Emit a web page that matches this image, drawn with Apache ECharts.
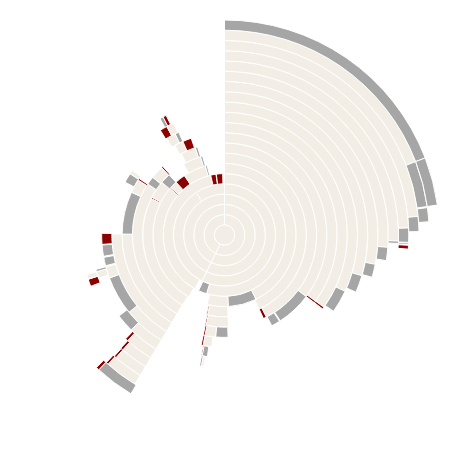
<!DOCTYPE html>
<html>
<head>
<meta charset="utf-8">
<script src="https://cdn.jsdelivr.net/npm/echarts@6/dist/echarts.min.js"></script>
<style>html,body{margin:0;padding:0;background:#fff}#c{width:475px;height:457px}</style>
</head>
<body>
<div id="c"></div>
<script>
// Each ring (innermost first) lists its segments as [startDeg, endDeg, kind]
// kind: c = cream, g = gray, r = dark red. Uncovered ranges are empty.
const ring00 = [[0,360,'c']];
const ring01 = [[0,206,'c'],[206,360,'c']];
const ring02 = [[0,206,'c'],[206,360,'c']];
const ring03 = [[0,206,'c'],[206,360,'c']];
const ring04 = [[0,206,'c'],[206,325.5,'c'],[325.5,326.5,'r'],[326.5,360,'c']];
const ring05 = [[0,197,'c'],[197,205,'g'],[209,347,'c'],[347,352,'r'],[352.3,358.5,'r'],[358.5,360,'c']];
const ring06 = [[0,154,'c'],[154,177,'g'],[177,194,'c'],[210,310.5,'c'],[310.5,311.5,'r'],[311.5,317.5,'c'],[317.5,326,'r'],[326,344.5,'c'],[344.5,346,'g']];
const ring07 = [[0,155,'c'],[177.5,192,'c'],[192,192.8,'r'],[211,296.5,'c'],[296.5,297.5,'r'],[297.5,310,'c'],[310,317.4,'g'],[330,343,'c'],[343,344.5,'g']];
const ring08 = [[0,153,'c'],[153,155,'r'],[177.5,191.5,'c'],[191.5,192.3,'r'],[211,303.6,'c'],[303.6,308.8,'g'],[308.8,317,'c'],[317,318,'r'],[332,341.5,'c'],[341.5,343,'g']];
const ring09 = [[0,127,'c'],[127,147,'g'],[147.5,152.5,'g'],[178,185,'g'],[185,191,'c'],[191,192,'r'],[211,270.5,'c'],[270.5,294.7,'g'],[294.7,302.5,'c'],[302.5,303.5,'r'],[331,336,'c'],[336,341,'r']];
const ring10 = [[0,126,'c'],[126,127,'r'],[186.5,191,'c'],[191,192,'r'],[211,270.5,'c'],[298,303,'g'],[303,305,'c'],[329,334,'c'],[334,336,'g']];
const ring11 = [[0,126,'c'],[126,127,'r'],[188,190.5,'g'],[190.5,191,'r'],[211,231,'c'],[231,249.5,'g'],[249.5,255,'c'],[255.5,259.5,'g'],[260,265.3,'g'],[265.6,270.8,'r'],[328.5,332,'r'],[332,335.5,'c']];
const ring12 = [[0,115,'c'],[115,125,'g'],[189,190,'c'],[190,190.8,'g'],[211,224.5,'c'],[224.5,232.5,'g'],[251,254,'c'],[254,255,'g'],[331,332.5,'g'],[332.5,334,'r']];
const ring13 = [[0,106.5,'c'],[106.5,113.5,'g'],[211,222.5,'c'],[222.5,223.6,'r'],[249,252,'r'],[252,254,'c']];
const ring14 = [[0,101,'c'],[101,106,'g'],[211,221.5,'c'],[221.5,222.5,'r']];
const ring15 = [[0,94.3,'c'],[94.3,99,'g'],[211,221.5,'c'],[221.5,222.3,'r']];
const ring16 = [[0,92,'c'],[92,92.8,'g'],[211,222,'c'],[222,222.8,'r']];
const ring17 = [[0,87.8,'c'],[87.8,92.3,'g'],[92.5,93,'g'],[93.2,94.4,'r'],[210.5,223,'g'],[223,224,'r']];
const ring18 = [[0,84.5,'c'],[84.5,89,'g']];
const ring19 = [[0,69,'c'],[69,82,'g'],[82.3,86.3,'g']];
const ring20 = [[0,69,'g'],[69,82,'g']];

const rings = [ring00,ring01,ring02,ring03,ring04,ring05,ring06,ring07,ring08,ring09,ring10,
               ring11,ring12,ring13,ring14,ring15,ring16,ring17,ring18,ring19,ring20];
const ringNames = rings.map((_, i) => 'R' + i);

const COLORS = { c: '#f3eee5', g: '#a6a6a6', r: '#8b0000' };

// Turn each ring's segments into consecutive stacked pieces (with empty gaps)
const pieces = rings.map(segs => {
  const out = [];
  let cur = 0;
  segs.slice().sort((a, b) => a[0] - b[0]).forEach(([s, e, k]) => {
    if (s > cur + 1e-6) out.push({ v: s - cur, k: null });
    out.push({ v: e - s, k });
    cur = e;
  });
  return out;
});
const nSeries = Math.max(...pieces.map(p => p.length));
const series = [];
for (let j = 0; j < nSeries; j++) {
  series.push({
    type: 'bar',
    coordinateSystem: 'polar',
    stack: 'all',
    barCategoryGap: '0%',
    silent: true,
    data: pieces.map(p => {
      const pc = p[j];
      if (!pc) return { value: 0, itemStyle: { color: 'rgba(0,0,0,0)', borderWidth: 0 } };
      if (!pc.k) return { value: pc.v, itemStyle: { color: 'rgba(0,0,0,0)', borderWidth: 0 } };
      return { value: pc.v, itemStyle: { color: COLORS[pc.k], borderColor: '#ffffff', borderWidth: 1 } };
    })
  });
}

const chart = echarts.init(document.getElementById('c'), null, { renderer: 'canvas' });
chart.setOption({
  animation: false,
  polar: { center: [224.5, 235], radius: [0, 215] },
  angleAxis: { type: 'value', min: 0, max: 360, startAngle: 90, clockwise: true, show: false },
  radiusAxis: { type: 'category', data: ringNames, show: false },
  series
});
</script>
</body>
</html>
